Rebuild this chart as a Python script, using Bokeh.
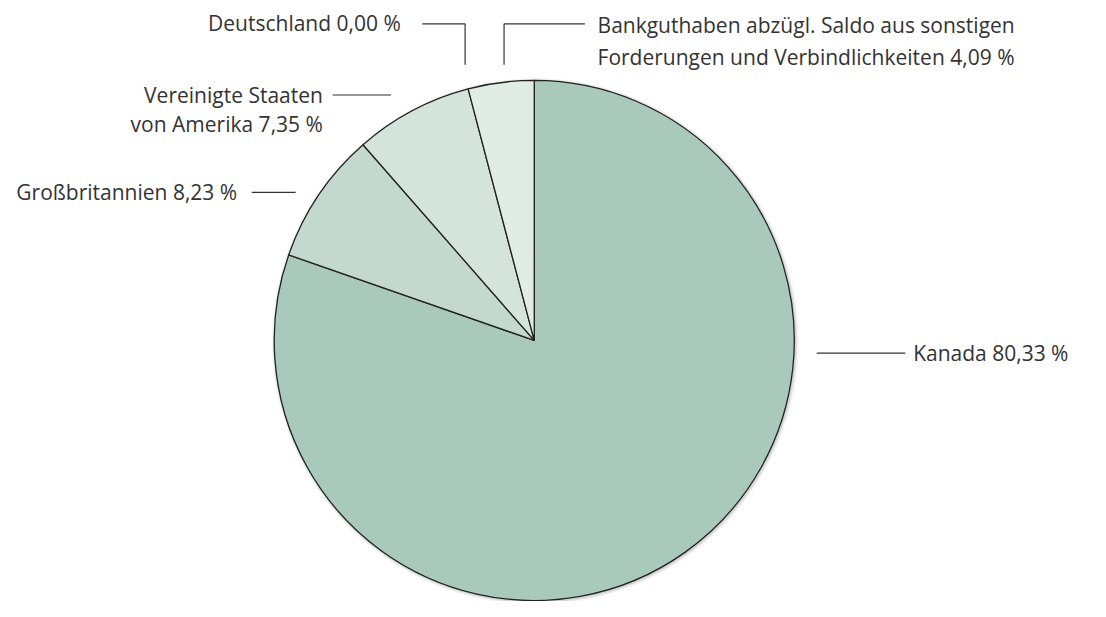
import math
from bokeh.plotting import figure
from bokeh.models import Range1d, ColumnDataSource
from bokeh.core.properties import value
from bokeh.embed import file_html
from bokeh.resources import INLINE

# ---- data ----
categories = ["Kanada", "Großbritannien", "Vereinigte Staaten von Amerika",
              "Deutschland", "Bankguthaben abzügl. Saldo aus sonstigen Forderungen und Verbindlichkeiten"]
shares = [80.33, 8.23, 7.35, 0.00, 4.09]
label_lines = [
    ["Kanada 80,33 %"],
    ["Großbritannien 8,23 %"],
    ["Vereinigte Staaten", "von Amerika 7,35 %"],
    ["Deutschland 0,00 %"],
    ["Bankguthaben abzügl. Saldo aus sonstigen", "Forderungen und Verbindlichkeiten 4,09 %"],
]
colors = ["#a9c9bc", "#c3d9cf", "#d4e4dc", "#d4e4dc", "#e2ece7"]

# ---- layout ----
W, H = 1090, 601
S = 0.974
def X(sx):
    return sx * S
def Y(sy):
    return H - sy * S

CX, CY, R = X(548), Y(349), 267 * S

p = figure(width=W, height=H, output_backend="svg", toolbar_location=None,
           x_range=Range1d(0, W), y_range=Range1d(0, H), min_border=0,
           outline_line_color=None)
p.axis.visible = False
p.grid.visible = False
p.background_fill_color = "white"

# soft shadow
for dr, a in [(3.5, 0.04), (2.2, 0.06), (1.1, 0.08)]:
    p.circle(x=[CX + 1], y=[CY - 1], radius=R + dr, fill_color="#000000",
             fill_alpha=a, line_color=None)

# wedge angles (counterclockwise, positive radians), slices run clockwise from 12 o'clock
total = sum(shares)
st, en, col, cat = [], [], [], []
cum = 0.0
for v, c, name in zip(shares, colors, categories):
    a_start_cw = math.pi / 2 - cum / total * 2 * math.pi
    cum += v
    a_end_cw = math.pi / 2 - cum / total * 2 * math.pi
    if v <= 0:
        continue
    s = a_end_cw % (2 * math.pi)
    e = a_start_cw % (2 * math.pi)
    if e <= s:
        e += 2 * math.pi
    st.append(s); en.append(e); col.append(c); cat.append(name)

src = ColumnDataSource(dict(start=st, end=en, color=col, cat=cat))
p.wedge(x=CX, y=CY, radius=R, start_angle="start", end_angle="end", direction="anticlock",
        fill_color="color", line_color="#222222", line_width=1.3, source=src)

LC = "#333333"
LW = 1.2
# leader lines (reference pixel coords, scaled)
leaders = [
    [(838, 362), (929, 362)],                 # Kanada
    [(258, 197), (303, 197)],                 # GB
    [(341, 97), (401, 97)],                   # USA
    [(433, 24), (477, 24), (477, 66)],        # Deutschland
    [(517, 66), (517, 24), (600, 24)],        # Bank
]
for pts in leaders:
    p.line(x=[X(a) for a, b in pts], y=[Y(b) for a, b in pts], line_color=LC, line_width=LW)

FONT = value("Open Sans")
FS = "21px"
def lbl(sx, sy, lines, align, step=33):
    for i, t in enumerate(lines):
        p.text(x=[X(sx)], y=[Y(sy + i * step)], text=[t], text_font=FONT, text_font_size=FS,
               text_color=LC, text_align=align, text_baseline="middle")

lbl(937, 362, label_lines[0], "left")
lbl(243, 197, label_lines[1], "right")
lbl(331, 97, label_lines[2], "right", step=30)
lbl(411, 23, label_lines[3], "right")
lbl(613, 25, label_lines[4], "left")

open("out.html", "w").write(file_html(p, INLINE))
